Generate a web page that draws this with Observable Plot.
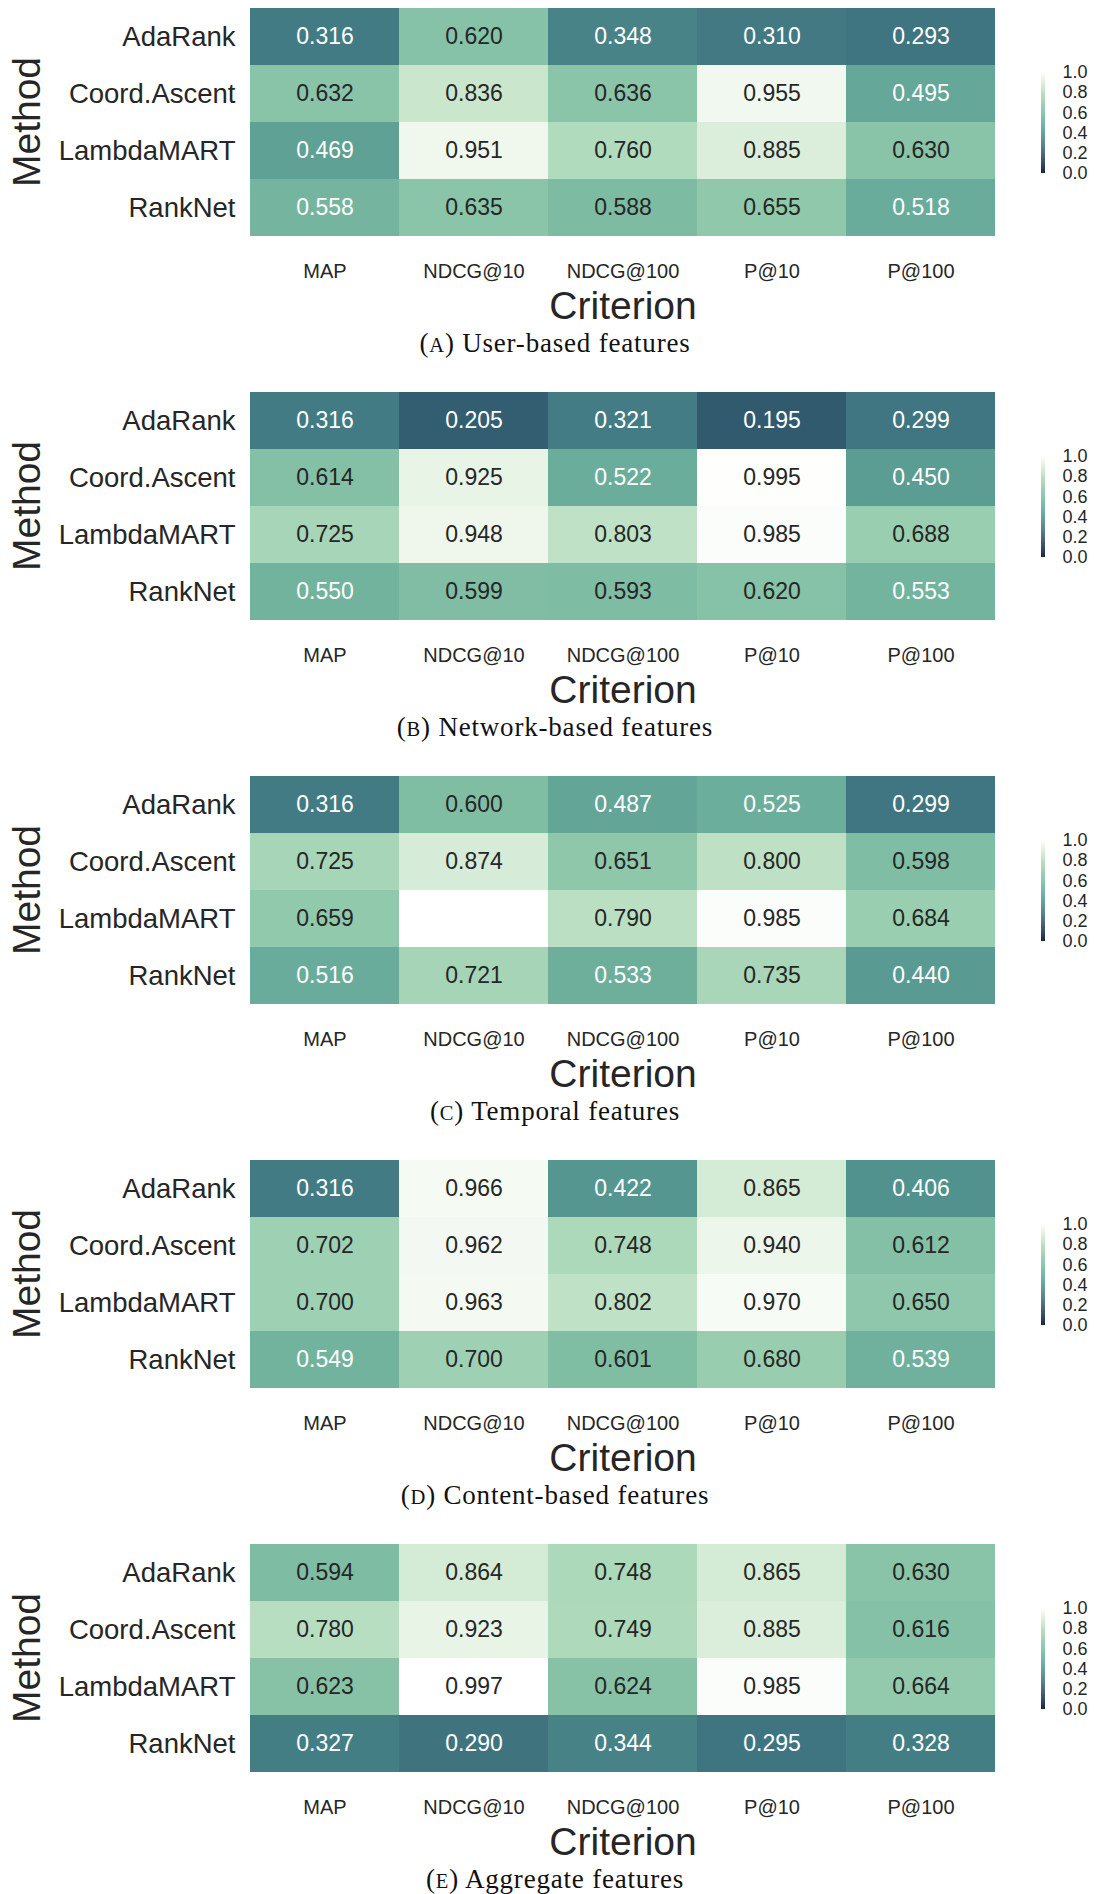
<!DOCTYPE html>
<html><head><meta charset="utf-8">
<script src="https://cdn.jsdelivr.net/npm/d3@7"></script>
<script src="https://cdn.jsdelivr.net/npm/@observablehq/plot@0.6"></script>
<style>
body{margin:0;background:#fff;}
#root{position:relative;width:1094px;height:1894px;overflow:hidden;background:#fff;}
.panel{position:absolute;left:0;width:1094px;height:384px;}
.panel svg{display:block;}
.hm{position:absolute;left:0;top:0;}
.cb{position:absolute;left:1030px;top:50px;}
.cap{position:absolute;top:328px;left:0;width:1110px;text-align:center;font-family:"Liberation Serif","Times New Roman",serif;font-size:27px;letter-spacing:0.8px;color:#111;white-space:nowrap;}
.sc{font-size:0.76em;}
</style></head><body><div id="root"></div>
<script>
const methods = ["AdaRank", "Coord.Ascent", "LambdaMART", "RankNet"];
const criteria = ["MAP", "NDCG@10", "NDCG@100", "P@10", "P@100"];
const colorbarTicks = [0, 0.2, 0.4, 0.6, 0.8, 1.0];

const userBased = [
  [0.316, 0.620, 0.348, 0.310, 0.293],
  [0.632, 0.836, 0.636, 0.955, 0.495],
  [0.469, 0.951, 0.760, 0.885, 0.630],
  [0.558, 0.635, 0.588, 0.655, 0.518]
];
const networkBased = [
  [0.316, 0.205, 0.321, 0.195, 0.299],
  [0.614, 0.925, 0.522, 0.995, 0.450],
  [0.725, 0.948, 0.803, 0.985, 0.688],
  [0.550, 0.599, 0.593, 0.620, 0.553]
];
const temporal = [
  [0.316, 0.600, 0.487, 0.525, 0.299],
  [0.725, 0.874, 0.651, 0.800, 0.598],
  [0.659, null,  0.790, 0.985, 0.684],
  [0.516, 0.721, 0.533, 0.735, 0.440]
];
const contentBased = [
  [0.316, 0.966, 0.422, 0.865, 0.406],
  [0.702, 0.962, 0.748, 0.940, 0.612],
  [0.700, 0.963, 0.802, 0.970, 0.650],
  [0.549, 0.700, 0.601, 0.680, 0.539]
];
const aggregate = [
  [0.594, 0.864, 0.748, 0.865, 0.630],
  [0.780, 0.923, 0.749, 0.885, 0.616],
  [0.623, 0.997, 0.624, 0.985, 0.664],
  [0.327, 0.290, 0.344, 0.295, 0.328]
];
const panelLetters = ["A", "B", "C", "D", "E"];
const panelCaptions = ["User-based features", "Network-based features", "Temporal features", "Content-based features", "Aggregate features"];
const panelValues = [userBased, networkBased, temporal, contentBased, aggregate];

// seaborn-style cubehelix colormap (rot=-.4, light=1, dark=.15), dark at 0 -> white at 1
function cubehelixRGB(t) {
  const dark = 0.15, light = 1, start = 0, rot = -0.4, hue = 0.8, gamma = 1;
  const x = dark + t * (light - dark);
  const xg = Math.pow(x, gamma);
  const a = hue * xg * (1 - xg) / 2;
  const phi = 2 * Math.PI * (start / 3 + rot * x);
  const c = Math.cos(phi), s = Math.sin(phi);
  const cl = v => Math.max(0, Math.min(1, v));
  return [cl(xg + a * (-0.14861 * c + 1.78277 * s)), cl(xg + a * (-0.29227 * c - 0.90649 * s)), cl(xg + a * (1.97294 * c))];
}
function cubehelix(t) {
  const [r, g, b] = cubehelixRGB(t);
  return `rgb(${Math.round(r * 255)},${Math.round(g * 255)},${Math.round(b * 255)})`;
}
function textColor(v) {
  const lin = cubehelixRGB(v).map(c => c <= 0.03928 ? c / 12.92 : Math.pow((c + 0.055) / 1.055, 2.4));
  const lum = 0.2126 * lin[0] + 0.7152 * lin[1] + 0.0722 * lin[2];
  return lum > 0.408 ? "#262626" : "#ffffff";
}
const colorOpts = {type: "linear", domain: [0, 1], interpolate: cubehelix};
const font = "'Liberation Sans', Arial, Helvetica, sans-serif";

const root = document.getElementById("root");
panelValues.forEach((values, p) => {
  const rows = [];
  values.forEach((row, i) => row.forEach((v, j) => {
    if (v != null) rows.push({method: methods[i], criterion: criteria[j], value: v});
  }));
  const panel = document.createElement("div");
  panel.className = "panel";
  panel.style.top = (p * 384) + "px";

  const hm = Plot.plot({
    width: 1000, height: 326,
    marginLeft: 250, marginRight: 5, marginTop: 7, marginBottom: 90,
    style: {fontFamily: font, color: "#262626", background: "transparent", overflow: "visible"},
    x: {domain: criteria, padding: 0, label: null},
    y: {domain: methods, padding: 0, label: null},
    color: colorOpts,
    marks: [
      Plot.cell(rows, {x: "criterion", y: "method", fill: "value", inset: 0}),
      Plot.text(rows, {x: "criterion", y: "method", text: d => d.value.toFixed(3), fill: d => textColor(d.value), fontSize: 23}),
      Plot.axisX({anchor: "bottom", tickSize: 0, tickPadding: 27, fontSize: 20, label: null}),
      Plot.axisY({anchor: "left", tickSize: 0, tickPadding: 15, fontSize: 27.5, label: null}),
      Plot.text(["Criterion"], {frameAnchor: "bottom", lineAnchor: "middle", textAnchor: "middle", dy: 70, fontSize: 39}),
      Plot.text(["Method"], {frameAnchor: "left", lineAnchor: "middle", textAnchor: "middle", dx: -223, rotate: -90, fontSize: 39})
    ]
  });
  hm.classList.add("hm");
  panel.appendChild(hm);

  const ramp = d3.range(0, 100).map(i => ({t: i / 100}));
  const cb = Plot.plot({
    width: 64, height: 140,
    marginLeft: 11, marginRight: 49, marginTop: 22, marginBottom: 17,
    style: {fontFamily: font, color: "#262626", background: "transparent", overflow: "visible"},
    x: {domain: [0, 1], axis: null},
    y: {domain: [0, 1], axis: null},
    color: colorOpts,
    marks: [
      Plot.rect(ramp, {x1: 0, x2: 1, y1: "t", y2: d => Math.min(1, d.t + 0.012), fill: d => d.t + 0.005}),
      Plot.axisY(colorbarTicks, {anchor: "right", tickSize: 0, tickPadding: 17, fontSize: 18, tickFormat: d => d.toFixed(1), label: null})
    ]
  });
  const cbWrap = document.createElement("div");
  cbWrap.className = "cb";
  cbWrap.appendChild(cb);
  panel.appendChild(cbWrap);

  const cap = document.createElement("div");
  cap.className = "cap";
  cap.innerHTML = `(<span class="sc">${panelLetters[p]}</span>) ${panelCaptions[p]}`;
  panel.appendChild(cap);

  root.appendChild(panel);
});
</script>
</body></html>
